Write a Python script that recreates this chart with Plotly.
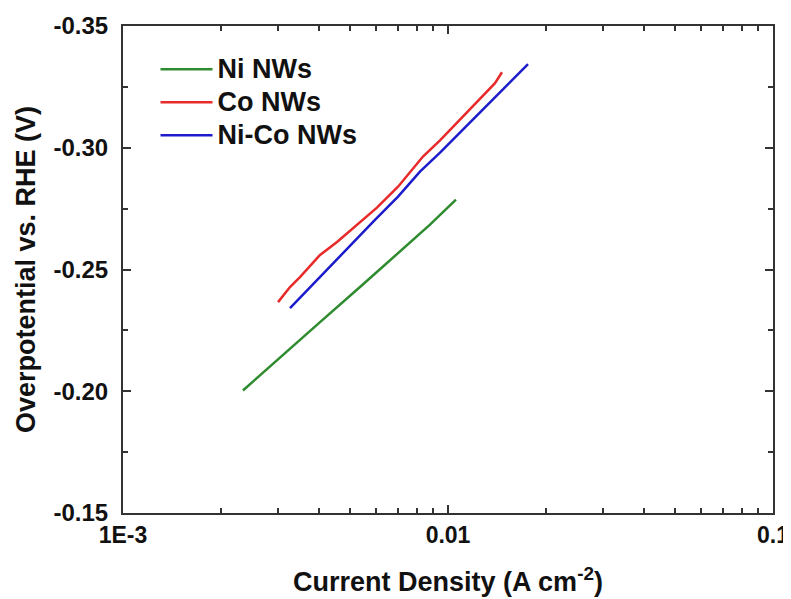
import plotly.graph_objects as go

# Data (current density in A cm^-2, overpotential in V)
ni_x = [0.002339, 0.003041, 0.004039, 0.005361, 0.007118, 0.008802, 0.01058]
ni_y = [-0.2003, -0.2139, -0.2284, -0.2428, -0.2576, -0.2684, -0.2787]

co_x = [0.002999, 0.003265, 0.003504, 0.003842, 0.004039, 0.004556, 0.005248, 0.006045,
        0.007019, 0.008375, 0.009450, 0.01066, 0.01186, 0.01318, 0.01395, 0.01466]
co_y = [-0.2366, -0.2428, -0.2469, -0.2527, -0.2560, -0.2613, -0.2684, -0.2754,
        -0.2840, -0.2964, -0.3030, -0.3104, -0.3166, -0.3232, -0.3265, -0.3310]

nico_x = [0.003265, 0.004039, 0.005101, 0.005961, 0.007019, 0.008198, 0.009450,
          0.01194, 0.01346, 0.01519, 0.01763]
nico_y = [-0.2341, -0.2469, -0.2613, -0.2704, -0.2799, -0.2902, -0.2980,
          -0.3116, -0.3182, -0.3253, -0.3343]

series_names = ["Ni NWs", "Co NWs", "Ni-Co NWs"]

x_tickvals = [0.001, 0.01, 0.1]
x_ticktext = ["1E-3", "0.01", "0.1"]
x_minor = [2e-3, 3e-3, 4e-3, 5e-3, 6e-3, 7e-3, 8e-3, 9e-3,
           2e-2, 3e-2, 4e-2, 5e-2, 6e-2, 7e-2, 8e-2, 9e-2]
y_tickvals = [-0.35, -0.30, -0.25, -0.20, -0.15]
y_ticktext = ["-0.35", "-0.30", "-0.25", "-0.20", "-0.15"]
y_minor = [-0.325, -0.275, -0.225, -0.175]

FONT = "Liberation Sans"


def leg(name):
    return '<span style="font-size:27px"><b>%s</b></span>' % name


fig = go.Figure()
fig.add_trace(go.Scatter(x=ni_x, y=ni_y, mode="lines", name=leg(series_names[0]),
                         line=dict(color="#2e8b2e", width=2.5), legendgroup="a"))
fig.add_trace(go.Scatter(x=co_x, y=co_y, mode="lines", name=leg(series_names[1]),
                         line=dict(color="#e82a2a", width=2.5), legendgroup="b"))
fig.add_trace(go.Scatter(x=nico_x, y=nico_y, mode="lines", name=leg(series_names[2]),
                         line=dict(color="#1c1ccc", width=2.5), legendgroup="c"))

axis_common = dict(showline=True, linecolor="#333333", linewidth=2, mirror="allticks",
                   ticks="inside", ticklen=8, tickwidth=2, tickcolor="#333333",
                   showgrid=False, zeroline=False, ticklabeloverflow="allow")

fig.update_xaxes(type="log", range=[-3, -1], tickmode="array",
                 tickvals=x_tickvals, ticktext=["<b>%s</b>" % t for t in x_ticktext],
                 tickfont=dict(family=FONT, size=23, color="#111111"),
                 minor=dict(tickmode="array", tickvals=x_minor, ticks="inside",
                            ticklen=5, tickwidth=1.5, tickcolor="#333333", showgrid=False),
                 title=dict(text="<b>Current Density (A cm<sup>-2</sup>)</b>",
                            font=dict(family=FONT, size=27, color="#111111"), standoff=26),
                 **axis_common)
fig.update_yaxes(range=[-0.15, -0.35], tickmode="array",
                 tickvals=y_tickvals, ticktext=["<b>%s</b>" % t for t in y_ticktext],
                 tickfont=dict(family=FONT, size=24, color="#111111"),
                 ticklabelstandoff=8,
                 minor=dict(tickmode="array", tickvals=y_minor, ticks="inside",
                            ticklen=5, tickwidth=1.5, tickcolor="#333333", showgrid=False),
                 title=dict(text="<b>Overpotential vs. RHE (V)</b>",
                            font=dict(family=FONT, size=27, color="#111111"), standoff=10),
                 **axis_common)

# The page body adds an 8px offset; size the figure so the plot sits where the reference has it
fig.update_layout(
    width=783, height=591,
    margin=dict(l=115, r=18, t=18, b=86, autoexpand=False),
    paper_bgcolor="white", plot_bgcolor="white",
    showlegend=True,
    legend=dict(x=0.05, y=0.955, xanchor="left", yanchor="top",
                bgcolor="rgba(0,0,0,0)", itemwidth=52, tracegroupgap=0,
                font=dict(family=FONT, size=23, color="#111111")),
)

fig.write_html("out.html")
